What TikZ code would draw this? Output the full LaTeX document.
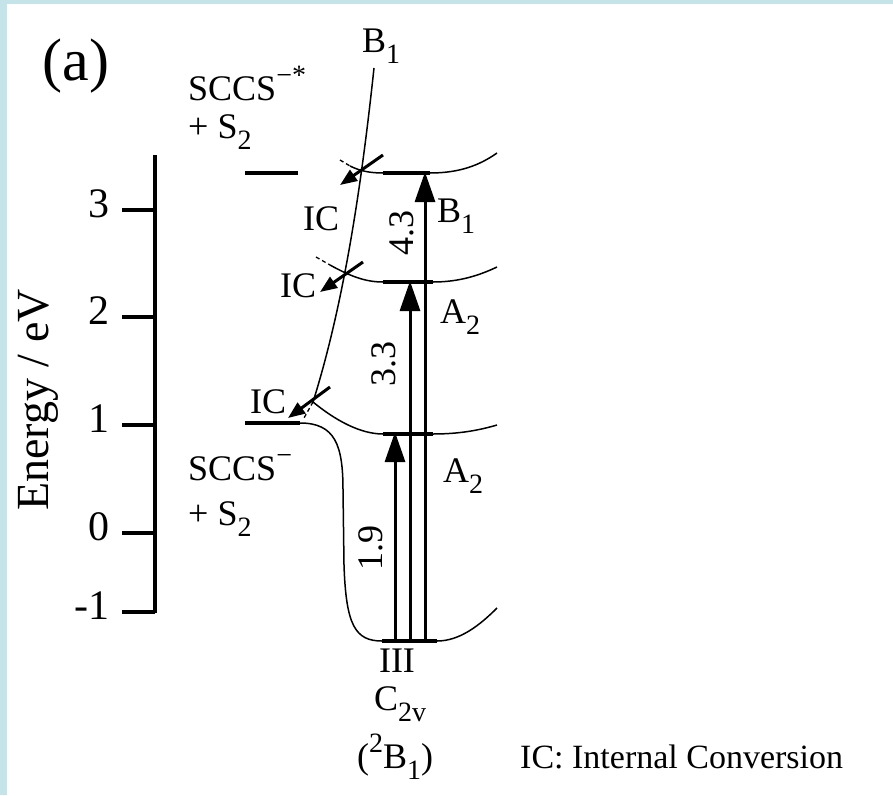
\documentclass[tikz,border=0pt]{standalone}
\usepackage{fontspec}
\setmainfont{Liberation Serif}
\usetikzlibrary{arrows.meta,positioning}
\definecolor{frameblue}{RGB}{196,228,233}
\newcommand\lowered[1]{\raisebox{-0.33em}{\fontsize{28}{30}\selectfont #1}}
\newcommand\raised[1]{\raisebox{0.42em}{\fontsize{28}{30}\selectfont #1}}

\begin{document}
\begin{tikzpicture}[x=1pt,y=-1pt,
		lvl/.style={line width=4pt},
		pes/.style={line width=1.5pt},
		tail/.style={line width=1.3pt, dash pattern=on 4pt off 3pt},
		exc/.style={line width=3pt, -{Triangle[length=30pt,width=20pt]}},
		icarr/.style={line width=3pt, -{Triangle[length=17pt,width=13pt]}},
		lbl/.style={font=\fontsize{36}{38}\selectfont, inner sep=0pt},
		ticklbl/.style={font=\fontsize{42}{44}\selectfont, inner sep=0pt, anchor=east}
	]
	\fill[frameblue] (0,0) rectangle (893,795);
	\fill[white] (7,4) rectangle (893,795);
	\useasboundingbox (0,0) rectangle (893,795);

	% energy axis
	\draw[line width=4pt] (155,155) -- (155,613);
	\foreach \yy/\lab in {210/3,317/2,425/1,533/0,612/-1}{
		\draw[line width=4pt] (122,\yy) -- (155,\yy);
		\node[ticklbl] (tick\lab) at (110,\yy-6) {\lab};
	}
	\node[rotate=90, font=\fontsize{46}{48}\selectfont, inner sep=0pt] (axlabel) at (38,400) {Energy / eV};
	\node[font=\fontsize{60}{62}\selectfont, inner sep=0pt] (panel) at (76,66) {(a)};

	% levels
	\coordinate (gsL) at (382,641);   \coordinate (gsR) at (437,641);
	\coordinate (aloL) at (383,434);  \coordinate (aloR) at (433,434);
	\coordinate (amiL) at (383,282);  \coordinate (amiR) at (433,282);
	\coordinate (btoL) at (383,173);  \coordinate (btoR) at (430,173);
	\coordinate (dissoL) at (245,423); \coordinate (dissoR) at (300,423);
	\coordinate (dissuL) at (245,173); \coordinate (dissuR) at (298,173);
	\draw[lvl] (gsL) -- (gsR);
	\draw[lvl] (aloL) -- (aloR);
	\draw[lvl] (amiL) -- (amiR);
	\draw[lvl] (btoL) -- (btoR);
	\draw[lvl] (dissoL) -- (dissoR);
	\draw[lvl] (dissuL) -- (dissuR);

	% potential curves
	\draw[pes] (dissoR) .. controls (335,423) and (343,445) .. (343,490)
		-- (344,565) .. controls (346,625) and (355,641) .. (gsL);
	\draw[pes] (gsR) .. controls (460,641) and (480,625) .. (497,608);
	\draw[pes] (374,68) .. controls (362,180) and (345,300) .. (313,402)
		.. controls (335,420) and (360,434) .. (aloL);
	\draw[pes] (aloR) .. controls (460,434) and (480,430) .. (497,425);
	\draw[tail] (313,402) -- (304,418);
	\draw[tail] (316,257) -- (330,265);
	\draw[pes] (330,265) .. controls (350,276) and (365,282) .. (amiL);
	\draw[pes] (amiR) .. controls (460,282) and (480,275) .. (497,267);
	\draw[tail] (340,160) -- (350,166);
	\draw[pes] (350,166) .. controls (360,171) and (370,173) .. (btoL);
	\draw[pes] (btoR) .. controls (460,173) and (480,165) .. (497,153);

	% excitations
	\coordinate (g19) at (395,641);
	\coordinate (g33) at (410,641);
	\coordinate (g43) at (425,641);
	\coordinate (t19) at (395,432);
	\coordinate (t33) at (410,281);
	\coordinate (t43) at (425,172);
	\draw[exc] (g19) -- (t19);
	\draw[exc] (g33) -- (t33);
	\draw[exc] (g43) -- (t43);
	\node[lbl, rotate=90] (e19) at (371,548) {1.9};
	\node[lbl, rotate=90] (e33) at (384,364) {3.3};
	\node[lbl, rotate=90] (e43) at (402,233) {4.3};

	% internal conversion
	\coordinate (ic1s) at (383,155); \coordinate (ic1e) at (340,185);
	\coordinate (ic2s) at (363,262); \coordinate (ic2e) at (320,292);
	\coordinate (ic3s) at (330,387); \coordinate (ic3e) at (288,418);
	\draw[icarr] (ic1s) -- (ic1e);
	\draw[icarr] (ic2s) -- (ic2e);
	\draw[icarr] (ic3s) -- (ic3e);

	% labels
	\node[lbl, anchor=base west] (sccsx) at (188,100) {SCCS\raised{−*}};
	\node[lbl, anchor=base west] (sx) at (188,138) {+ S\lowered{2}};
	\node[lbl, anchor=base west] (sccs) at (188,480) {SCCS\raised{−}};
	\node[lbl, anchor=base west] (s) at (188,525) {+ S\lowered{2}};
	\node[lbl, anchor=base west] (btop) at (362,52) {B\lowered{1}};
	\node[lbl, anchor=base west] (bright) at (437,222) {B\lowered{1}};
	\node[lbl, anchor=base west] (amid) at (440,323) {A\lowered{2}};
	\node[lbl, anchor=base west] (alow) at (443,482) {A\lowered{2}};
	\node[lbl, anchor=base west] (ic1) at (303,230) {IC};
	\node[lbl, anchor=base west] (ic2) at (280,297) {IC};
	\node[lbl, anchor=base west] (ic3) at (250,413) {IC};
	\node[lbl, anchor=base] (geom) at (397,672) {III};
	\node[lbl, anchor=base] (sym) at (400,710) {C\lowered{2v}};
	\node[lbl, anchor=base] (state) at (395,768) {(\raised{2}B\lowered{1})};
	\node[lbl, anchor=base west, font=\fontsize{34}{36}\selectfont] (legend) at (520,768) {IC: Internal Conversion};
\end{tikzpicture}
\end{document}
